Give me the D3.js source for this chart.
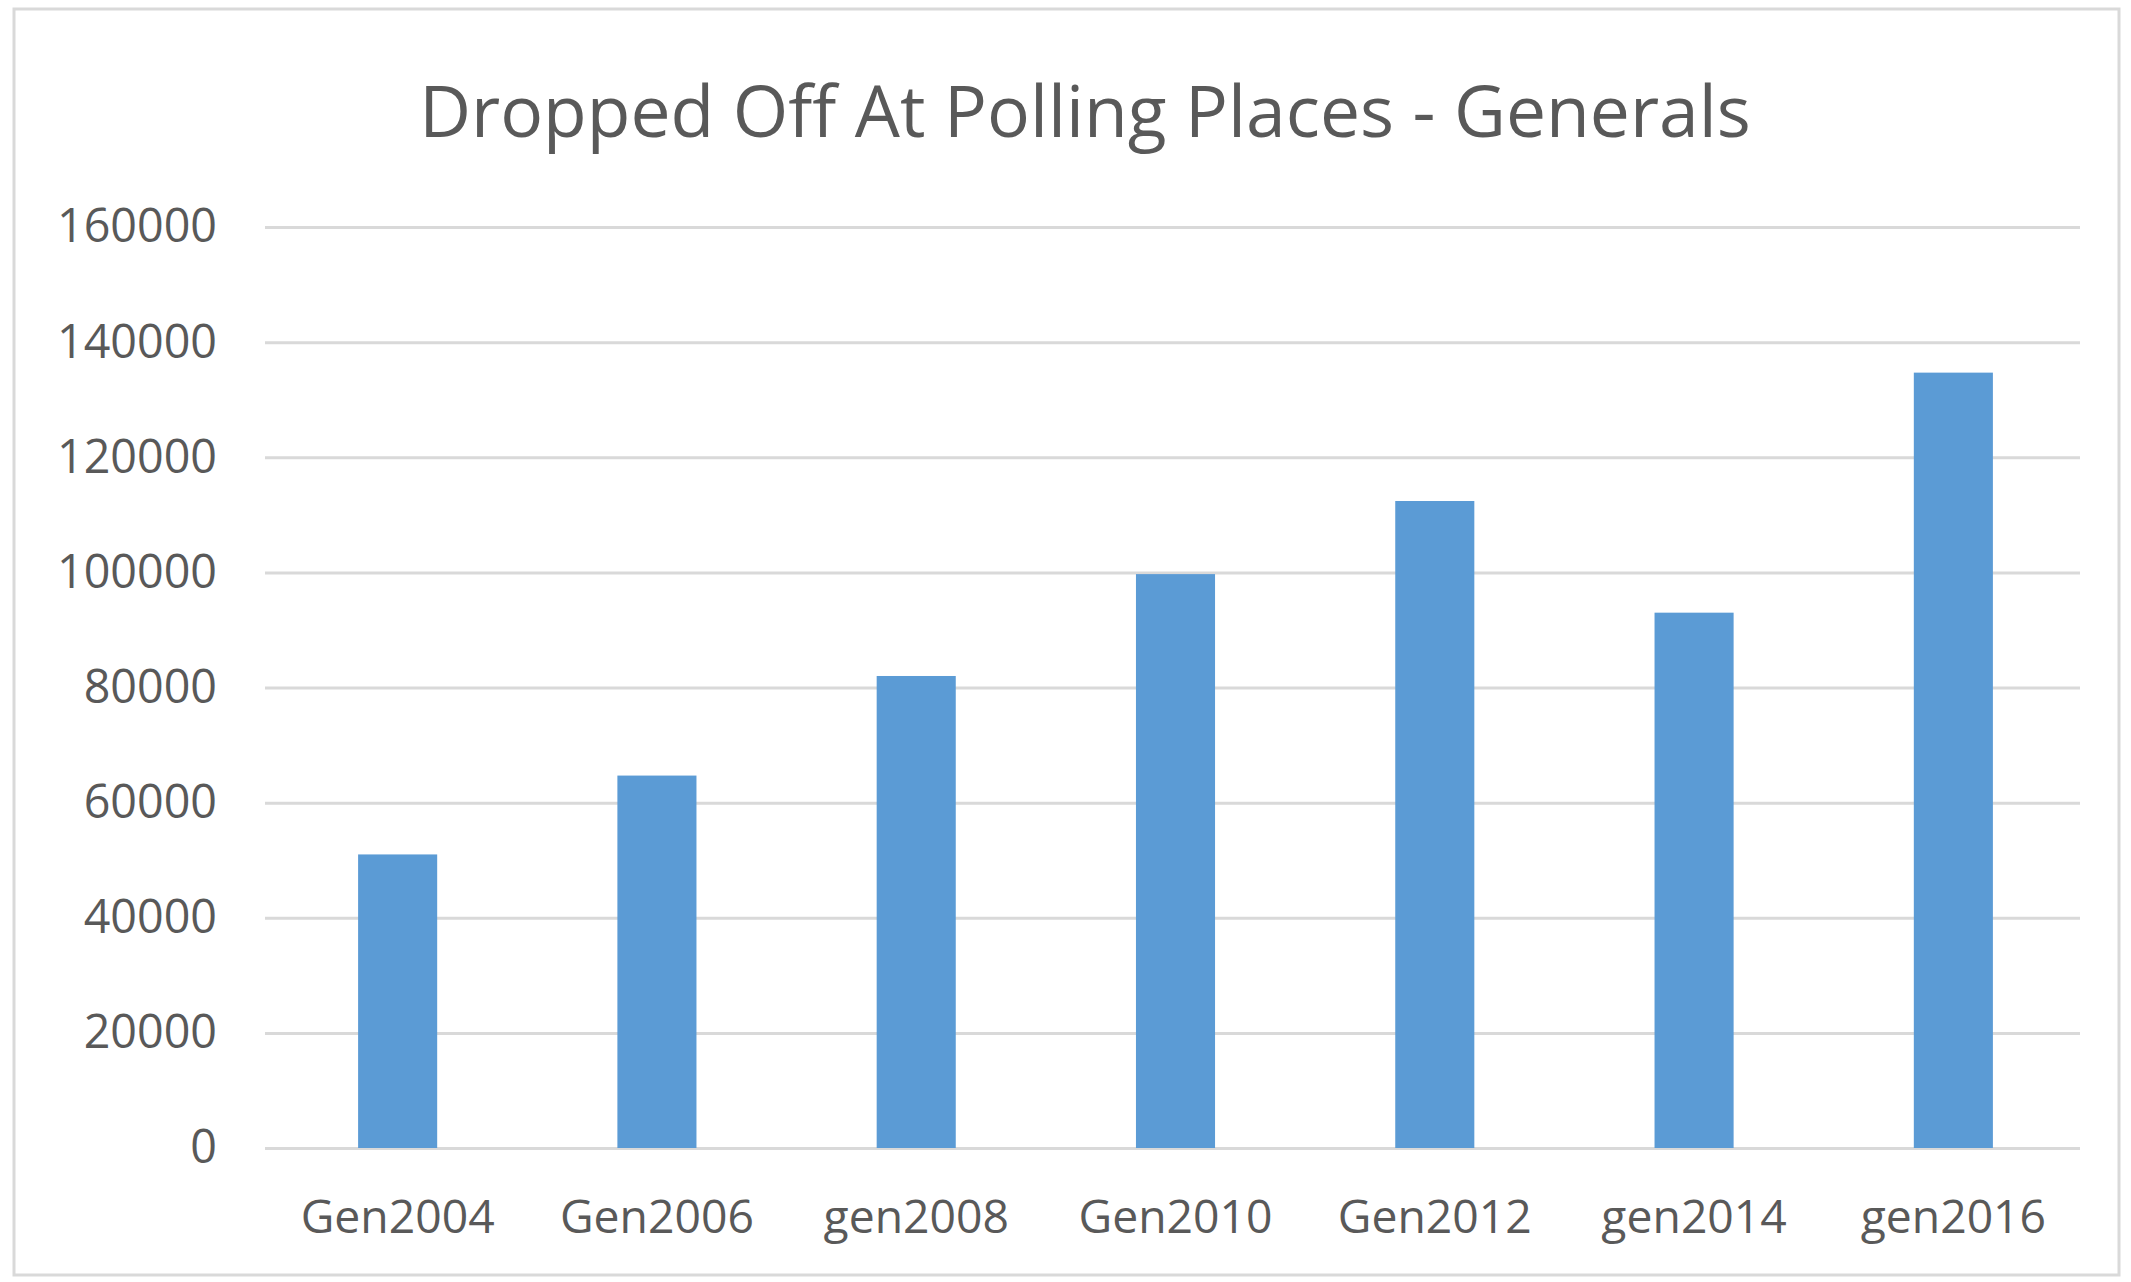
<!DOCTYPE html>
<html>
<head>
<meta charset="utf-8">
<script src="https://cdn.jsdelivr.net/npm/d3@7"></script>
<style>
  html, body { margin: 0; padding: 0; background: #ffffff; }
  svg { display: block; }
</style>
</head>
<body>
<script>
// ---- Data ----
const categories = ["Gen2004", "Gen2006", "gen2008", "Gen2010", "Gen2012", "gen2014", "gen2016"];
const values = [51000, 64700, 82000, 99700, 112400, 93000, 134700];
const yTicks = [0, 20000, 40000, 60000, 80000, 100000, 120000, 140000, 160000];
const titleText = "Dropped Off At Polling Places - Generals";

// ---- Layout ----
const W = 2131, H = 1282;
const margin = { top: 227, right: 51, bottom: H - 1148, left: 265 };
const fontFamily = "'Open Sans', 'Noto Sans', sans-serif";
const textColor = "#595959";

const svg = d3.select("body").append("svg")
  .attr("width", W).attr("height", H);

svg.append("rect").attr("x", 0).attr("y", 0).attr("width", W).attr("height", H).attr("fill", "#fff");
// chart border
svg.append("rect")
  .attr("x", 14).attr("y", 9).attr("width", W - 26).attr("height", H - 16)
  .attr("fill", "none").attr("stroke", "#d9d9d9").attr("stroke-width", 3);

const x = d3.scaleBand().domain(categories)
  .range([margin.left + 3, W - margin.right + 3])
  .paddingInner(0.695).paddingOuter(0.3475);

const y = d3.scaleLinear().domain([0, 160000])
  .range([H - margin.bottom, margin.top]);

// helper: fit a font size so text has the target width
function fitSize(str, target, base) {
  const t = svg.append("text").attr("font-family", fontFamily).attr("font-size", base).text(str);
  const w = t.node().getComputedTextLength();
  t.remove();
  return base * target / w;
}

// ---- Gridlines ----
const yAxis = d3.axisLeft(y).tickValues(yTicks).tickSize(-(W - margin.left - margin.right)).tickPadding(48)
  .tickFormat(d3.format("d"));
const yG = svg.append("g").attr("transform", `translate(${margin.left},0)`).call(yAxis);
yG.select(".domain").remove();
yG.selectAll(".tick line").attr("stroke", "#d9d9d9").attr("stroke-width", 3);
const yFont = fitSize("160000", 160, 40);
yG.selectAll(".tick text").attr("font-family", fontFamily).attr("font-size", yFont).attr("fill", textColor);

// ---- Bars ----
svg.append("g").selectAll("rect").data(values).join("rect")
  .attr("x", (d, i) => x(categories[i]))
  .attr("width", x.bandwidth())
  .attr("y", d => y(d))
  .attr("height", d => y(0) - y(d))
  .attr("fill", "#5b9bd5");

// ---- X axis ----
const xAxis = d3.axisBottom(x).tickSize(0).tickPadding(52);
const xG = svg.append("g").attr("transform", `translate(0,${y(0)})`).call(xAxis);
xG.select(".domain").remove();
const xFont = fitSize("Gen2004", 194, 40);
xG.selectAll(".tick text").attr("font-family", fontFamily).attr("font-size", xFont).attr("fill", textColor);

// ---- Title ----
const tFont = fitSize(titleText, 1332, 60);
svg.append("text")
  .attr("x", 1085).attr("y", 109)
  .attr("text-anchor", "middle").attr("dominant-baseline", "central")
  .attr("font-family", fontFamily).attr("font-size", tFont).attr("fill", textColor)
  .text(titleText);
</script>
</body>
</html>
